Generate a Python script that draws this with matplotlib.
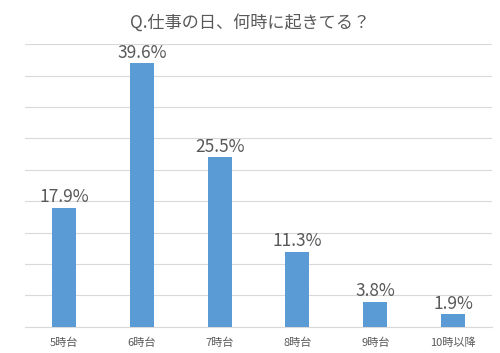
import numpy as np
import matplotlib
matplotlib.use("Agg")
import matplotlib.pyplot as plt

plt.rcParams['font.family'] = ['Noto Sans CJK JP', 'DejaVu Sans']

# data
categories = ["5時台", "6時台", "7時台", "8時台", "9時台", "10時以降"]
values = [17.9, 39.6, 25.5, 11.3, 3.8, 1.9]
title = "Q.仕事の日、何時に起きてる？"

text_color = "#595959"
bar_color = "#5B9BD5"
grid_color = "#D9D9D9"

fig = plt.figure(figsize=(5.0, 3.53), dpi=100)
ax = fig.add_axes([0.05, 0.074, 0.934, 0.801])

x = np.arange(len(categories))
ax.bar(x, values, width=0.31, color=bar_color, zorder=3)

for xi, v in zip(x, values):
    ax.text(xi, v + 0.2, f"{v}%", ha="center", va="bottom",
            fontsize=12.5, color=text_color, zorder=4)

ax.set_xlim(-0.5, len(categories) - 0.5)
ax.set_ylim(0, 42.5)
ax.set_yticks(np.linspace(0, 42.5, 10))
ax.yaxis.grid(True, color=grid_color, linewidth=0.8, zorder=0)
ax.set_yticklabels([])
ax.tick_params(axis="y", length=0)

ax.set_xticks(x)
ax.set_xticklabels(categories, fontsize=8, color=text_color)
ax.tick_params(axis="x", length=0, pad=8)

for s in ["top", "right", "left"]:
    ax.spines[s].set_visible(False)
ax.spines["bottom"].set_color(grid_color)
ax.spines["bottom"].set_linewidth(0.8)

fig.text(0.5, 0.937, title, ha="center", va="center", fontsize=12.3, color=text_color)

fig.savefig("out.png", dpi=100)
